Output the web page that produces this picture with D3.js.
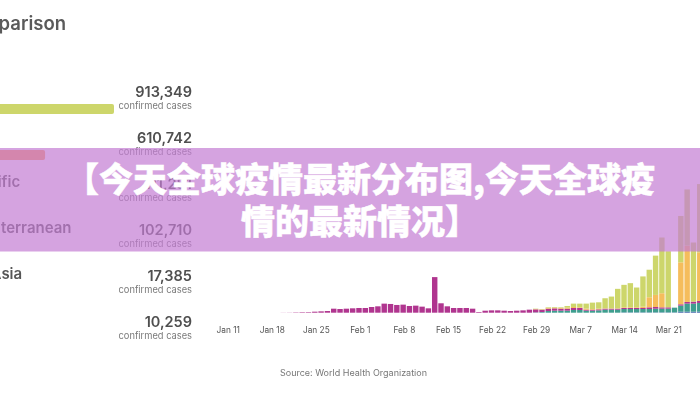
<!DOCTYPE html>
<html>
<head>
<meta charset="utf-8">
<script src="https://cdn.jsdelivr.net/npm/d3@7"></script>
<style>
  html, body { margin: 0; padding: 0; background: #fff; overflow: hidden; }
  svg { position: absolute; left: 0; top: 0; }
  #chart { filter: blur(0.5px); }
  text { font-family: Inter, "Noto Sans", sans-serif; }
  #banner text { font-family: "Noto Sans CJK SC", sans-serif; font-weight: 900; }
</style>
</head>
<body>
<svg id="chart" width="700" height="400"></svg>
<svg id="banner" width="700" height="400"></svg>
<script>
// left panel
var regions = ["Europe", "Americas", "Western Pacific", "Eastern Mediterranean", "South-East Asia", "Africa"];
var confirmed = [913349, 610742, 111281, 102710, 17385, 10259];
var regionColors = ["#cdd66b", "#fa9f55", "#b0358f", "#f5bd5c", "#3a5fa8", "#3f9e8f"];

// right panel, new cases per day starting Jan 11
var firstDay = new Date(2020, 0, 11);
var magenta = [0,0,0,0,0,0,0,0,40,60,
  140,210,230,430,570,710,1700,1560,1700,1850,
  1990,1990,2410,2700,3830,3690,3270,3410,2840,2980,
  2560,1850,15050,3980,2700,1990,1990,1990,1700,280,
  850,990,990,850,710,850,990,1280,1280,990,
  990,990,850,850,850,850,430,430,430,430,
  430,430,430,430,430,430,710,710,570,570,
  0,570,710,850,850,850];
var teal = [0,0,0,0,0,0,0,0,0,0,
  0,0,0,0,0,0,0,0,0,0,
  0,0,0,0,0,0,0,0,0,0,
  0,0,0,0,0,0,0,0,0,0,
  0,0,0,0,0,0,0,0,140,280,
  710,850,850,850,1140,1140,850,850,990,1280,
  1280,1280,1420,1420,1420,1420,1420,1560,1560,1560,
  1990,2560,3410,3410,3690,3980];
var blue = [0,0,0,0,0,0,0,0,0,0,
  0,0,0,0,0,0,0,0,0,0,
  0,0,0,0,0,0,0,0,0,0,
  0,0,0,0,0,0,0,0,0,0,
  0,0,0,0,0,0,0,0,0,0,
  0,0,0,0,0,0,0,0,0,0,
  0,0,140,140,140,140,140,140,140,140,
  140,430,430,430,430,430];
var orange = [0,0,0,0,0,0,0,0,0,0,
  0,0,0,0,0,0,0,0,0,0,
  0,0,0,0,0,0,0,0,0,0,
  0,0,0,0,0,0,0,0,0,0,
  0,0,0,0,0,0,0,0,140,140,
  280,280,280,430,430,280,430,280,280,140,
  140,140,280,280,280,570,4260,5110,5960,0,
  0,17750,23860,0,20590,0];
var green = [0,0,0,0,0,0,0,0,0,0,
  0,0,0,0,0,0,0,0,0,0,
  0,0,0,0,0,0,0,0,0,0,
  0,0,0,0,0,0,0,0,0,0,
  0,0,0,0,0,0,0,0,140,140,
  280,280,280,710,1420,1560,2130,2700,2700,4260,
  4970,8240,9510,10220,8380,12780,11640,16610,23570,23710,
  0,19600,23710,24990,28830,35640];
var tickDays = [[0, 11], [0, 18], [0, 25], [1, 1], [1, 8], [1, 15], [1, 22], [1, 29], [2, 7], [2, 14], [2, 21]];

var headline = ["【今天全球疫情最新分布图,今天全球疫", "情的最新情况】"];

var days = magenta.map(function(d, i) { return d3.timeDay.offset(firstDay, i); });
var rows = days.map(function(day, i) {
  return { day: day, blue: blue[i], teal: teal[i], magenta: magenta[i], orange: orange[i], green: green[i] };
});

var svg = d3.select("#chart");

//left panel with one row per region
var rowY = d3.scalePoint().domain(regions).range([0, 230]);
var barX = d3.scaleLinear().domain([0, 913349]).range([-94, 114]);

svg.append("text")
  .text("Regional comparison")
  .attr("x", 66).attr("y", 30)
  .attr("text-anchor", "end")
  .style("font-size", "18.5px").style("font-weight", 600).style("fill", "#5a5a5a");

var row = svg.selectAll("g.region")
  .data(regions)
  .enter()
  .append("g")
  .attr("class", "region")
  .attr("transform", function(d) { return "translate(0," + rowY(d) + ")"; });

row.append("text")
  .text(function(d) { return d; })
  .attr("x", -94).attr("y", 95)
  .style("font-size", "15px").style("font-weight", 600).style("fill", "#555");

row.append("rect")
  .attr("x", -94).attr("y", 104)
  .attr("rx", 2)
  .attr("height", 10)
  .attr("width", function(d, i) { return barX(confirmed[i]) + 94; })
  .style("fill", function(d, i) { return regionColors[i]; });

row.append("text")
  .text(function(d, i) { return d3.format(",")(confirmed[i]); })
  .attr("x", 192).attr("y", 97)
  .attr("text-anchor", "end")
  .style("font-size", "14.5px").style("font-weight", 600).style("fill", "#4f4f4f");

row.append("text")
  .text("confirmed cases")
  .attr("x", 192).attr("y", 109)
  .attr("text-anchor", "end")
  .style("font-size", "9.3px").style("fill", "#7a7a7a");

//right panel, stacked bars
var x = d3.scaleBand().domain(days).range([229.6, 703 + 6.23]).paddingInner(0.14).paddingOuter(0.07);
var y = d3.scaleLinear().domain([0, 54000]).range([312.7, 185]);
var seriesColor = { blue: "#3a5fa8", teal: "#3f9e8f", magenta: "#b0358f", orange: "#f5bd5c", green: "#cdd66b" };

var stacked = d3.stack().keys(["blue", "teal", "magenta", "orange", "green"])(rows);

svg.selectAll("g.series")
  .data(stacked)
  .enter()
  .append("g")
  .attr("class", "series")
  .style("fill", function(d) { return seriesColor[d.key]; })
  .selectAll("rect")
  .data(function(d) { return d; })
  .enter()
  .append("rect")
  .attr("x", function(d) { return x(d.data.day); })
  .attr("width", x.bandwidth())
  .attr("y", function(d) { return y(d[1]); })
  .attr("height", function(d) { return y(d[0]) - y(d[1]); });

//the tick labels run a little wider than the bars
var tickScale = d3.scaleTime()
  .domain([firstDay, new Date(2020, 2, 21)])
  .range([227.7, 668.3]);

var axis = d3.axisBottom(tickScale)
  .tickValues(tickDays.map(function(d) { return new Date(2020, d[0], d[1]); }))
  .tickFormat(d3.timeFormat("%b %-d"))
  .tickSize(0);

var axisGroup = svg.append("g")
  .attr("transform", "translate(0,324)")
  .call(axis);
axisGroup.select(".domain").remove();
axisGroup.selectAll("text")
  .style("font-family", "Inter, 'Noto Sans', sans-serif")
  .style("font-size", "8.3px")
  .style("fill", "#555");

svg.append("text")
  .text("Source: World Health Organization")
  .attr("x", 353.5).attr("y", 376)
  .attr("text-anchor", "middle")
  .style("font-size", "9px").style("fill", "#777");

//purple title band over everything
var banner = d3.select("#banner");
banner.append("rect")
  .attr("x", 0).attr("y", 148)
  .attr("width", 700).attr("height", 103.5)
  .style("fill", "#c37cd3")
  .style("fill-opacity", 0.7);

banner.selectAll("text")
  .data(headline)
  .enter()
  .append("text")
  .text(function(d) { return d; })
  .attr("x", 360)
  .attr("y", function(d, i) { return 192 + i * 42; })
  .attr("text-anchor", "middle")
  .style("font-size", "34px")
  .style("fill", "#fff")
  .style("stroke", "#fff")
  .style("stroke-width", 0.5);
</script>
</body>
</html>
